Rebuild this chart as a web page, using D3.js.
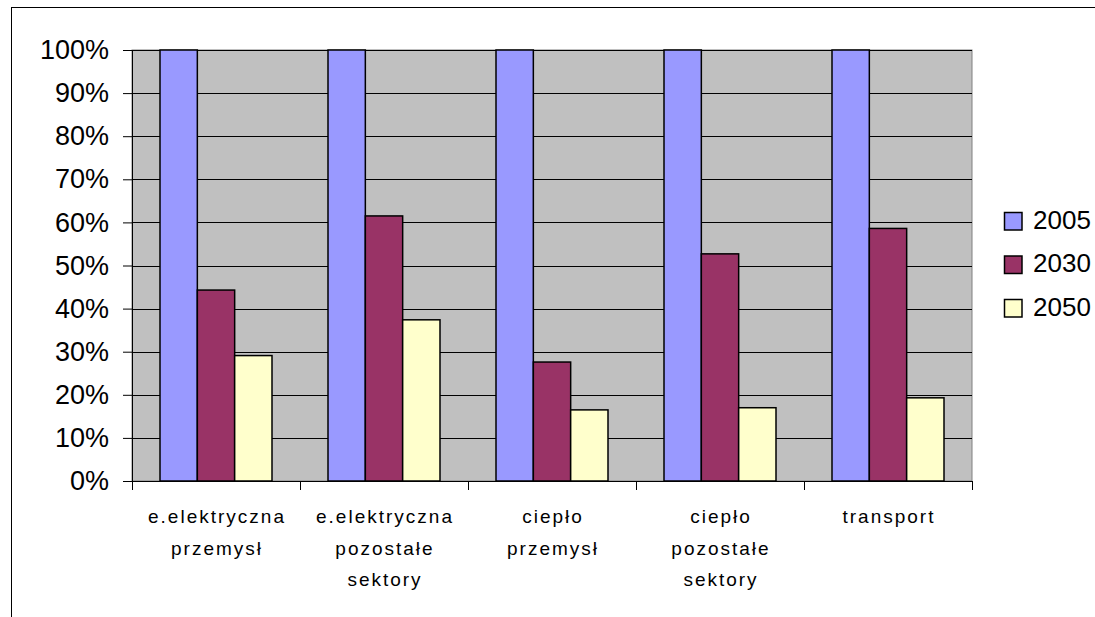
<!DOCTYPE html>
<html><head><meta charset="utf-8">
<script src="https://cdn.jsdelivr.net/npm/d3@7"></script>
<style>body{margin:0;background:#fff;}svg{display:block;}</style>
</head><body>
<svg id="c" width="1095" height="617"></svg>
<script>
const categories = [["e.elektryczna","przemysł"],["e.elektryczna","pozostałe","sektory"],["ciepło","przemysł"],["ciepło","pozostałe","sektory"],["transport"]];
const seriesNames = ["2005","2030","2050"];
const v2005 = [100,100,100,100,100];
const v2030 = [44.3,61.5,27.6,52.7,58.6];
const v2050 = [29.1,37.4,16.5,17.0,19.3];
const colors = ["#9999FF","#993366","#FFFFCC"];
const yTicks = [0,10,20,30,40,50,60,70,80,90,100];

const values = [v2005, v2030, v2050];
const svg = d3.select("#c");
const font = "'Liberation Sans', Arial, sans-serif";

svg.append("rect").attr("x",11.5).attr("y",7.5).attr("width",1200).attr("height",700)
  .attr("fill","#fff").attr("stroke","#000").attr("stroke-width",1);

const L=132, R=972, T=50, B=481;
const idx = categories.map((d,i)=>i);
const x0 = d3.scaleBand().domain(idx).range([L,R]).paddingInner(1/3).paddingOuter(1/6);
const x1 = d3.scaleBand().domain(seriesNames).range([0,x0.bandwidth()]);
const y = d3.scaleLinear().domain([0,100]).range([B,T]);

svg.append("rect").attr("x",L).attr("y",T).attr("width",R-L).attr("height",B-T)
  .attr("fill","#C0C0C0").attr("stroke","#808080").attr("stroke-width",1);

svg.append("g").selectAll("line").data(yTicks.filter(t=>t>0)).join("line")
  .attr("x1",L).attr("x2",R).attr("y1",d=>Math.round(y(d))+0.5).attr("y2",d=>Math.round(y(d))+0.5)
  .attr("stroke","#000").attr("stroke-width",1);

const bars = svg.append("g");
seriesNames.forEach((s,si)=>{
  bars.selectAll(null).data(values[si]).join("rect")
    .attr("x",(d,i)=>x0(i)+x1(s))
    .attr("y",d=>y(d))
    .attr("width",x1.bandwidth())
    .attr("height",d=>B-y(d))
    .attr("fill",colors[si]).attr("stroke","#000").attr("stroke-width",1.5);
});

// y axis
const ya = svg.append("g").attr("transform",`translate(${L},0)`)
  .call(d3.axisLeft(y).tickValues(yTicks).tickSize(9).tickPadding(14).tickFormat(d=>d+"%"));
ya.select(".domain").attr("stroke","#000").attr("d",`M0.5,${T}V${B}`);
ya.selectAll(".tick line").attr("stroke","#000");
ya.selectAll("text").attr("font-family",font).attr("font-size",27).attr("fill","#000");

// x axis
const step = x0.step();
const bounds = d3.range(categories.length+1).map(i=>L+i*step);
const xa = svg.append("g");
xa.append("line").attr("x1",L).attr("x2",R).attr("y1",B+0.5).attr("y2",B+0.5).attr("stroke","#000");
xa.selectAll(".t").data(bounds).join("line").attr("class","t")
  .attr("x1",d=>Math.round(d)+0.5).attr("x2",d=>Math.round(d)+0.5).attr("y1",B).attr("y2",B+9).attr("stroke","#000");
categories.forEach((lines,i)=>{
  const cx = x0(i)+x0.bandwidth()/2;
  const t = xa.append("text").attr("x",cx).attr("y",523).attr("text-anchor","middle")
    .attr("font-family",font).attr("font-size",19).attr("letter-spacing","2px").attr("fill","#000");
  lines.forEach((ln,k)=>t.append("tspan").attr("x",cx+1).attr("dy",k===0?0:31.5).text(ln));
});

// legend
const lg = svg.append("g");
seriesNames.forEach((s,i)=>{
  const cy = 221 + i*43.5;
  lg.append("rect").attr("x",1004.5).attr("y",cy-8.5).attr("width",17.5).attr("height",17.5)
    .attr("fill",colors[i]).attr("stroke","#000").attr("stroke-width",1.5);
  lg.append("text").attr("x",1033).attr("y",cy+7.5).attr("font-family",font).attr("font-size",26)
    .attr("fill","#000").text(s);
});
</script>
</body></html>
